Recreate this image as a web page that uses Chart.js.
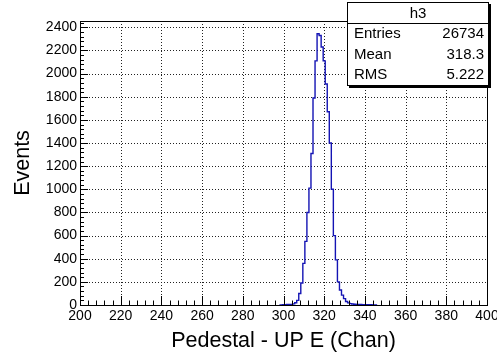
<!DOCTYPE html>
<html>
<head>
<meta charset="utf-8">
<script src="https://cdn.jsdelivr.net/npm/chart.js@4.4.0/dist/chart.umd.min.js"></script>
<style>
  html, body { margin: 0; padding: 0; background: #fff; }
  #wrap { width: 497px; height: 356px; }
</style>
</head>
<body>
<div id="wrap"><canvas id="c" width="497" height="356"></canvas></div>
<script>
// histogram h3: bin centres (Chan) and counts
const channels = [298, 299, 300, 301, 302, 303, 304, 305, 306, 307, 308, 309, 310, 311, 312, 313, 314, 315, 316, 317,
                  318, 319, 320, 321, 322, 323, 324, 325, 326, 327, 328, 329, 330, 331, 332, 333, 334, 335, 336, 337,
                  338, 339, 340, 341, 342, 343, 344, 345, 346];
const counts = [0, 0, 3, 3, 4, 4, 5, 10, 20, 40, 100, 190, 360, 550, 800, 1010, 1310, 1790, 2110, 2345,
                2330, 2230, 2110, 1910, 1670, 1400, 1000, 600, 390, 200, 130, 85, 55, 30, 18, 12, 8, 6, 5, 4,
                4, 3, 3, 2, 2, 2, 1, 0, 0];

const xTicks = [200, 220, 240, 260, 280, 300, 320, 340, 360, 380, 400];
const yTicks = [0, 200, 400, 600, 800, 1000, 1200, 1400, 1600, 1800, 2000, 2200, 2400];

const statsTitle = 'h3';
const statsLabels = ['Entries', 'Mean', 'RMS'];
const statsValues = ['26734', '318.3', '5.222'];

const FONT = "'Liberation Sans', Arial, Helvetica, sans-serif";
const X_MIN = 200, X_MAX = 400, Y_MAX = 2455;

// ROOT style: dotted grid, ticks pointing inside, frame, stats box
const rootStyle = {
    id: 'rootStyle',
    beforeDatasetsDraw(chart) {
        const { ctx, chartArea: a, scales: { x, y } } = chart;
        ctx.save();
        ctx.strokeStyle = '#222';
        ctx.lineWidth = 1;
        ctx.setLineDash([1, 2]);
        xTicks.forEach(v => {
            const px = Math.round(x.getPixelForValue(v)) + 0.5;
            ctx.beginPath(); ctx.moveTo(px, a.top); ctx.lineTo(px, a.bottom); ctx.stroke();
        });
        yTicks.forEach(v => {
            const py = Math.round(y.getPixelForValue(v)) + 0.5;
            ctx.beginPath(); ctx.moveTo(a.left, py); ctx.lineTo(a.right, py); ctx.stroke();
        });
        ctx.restore();
    },
    afterDatasetsDraw(chart) {
        const { ctx, chartArea: a, scales: { x, y } } = chart;
        ctx.save();
        ctx.strokeStyle = '#000';
        ctx.lineWidth = 1;
        ctx.strokeRect(Math.round(a.left) + 0.5, Math.round(a.top) + 0.5,
                       Math.round(a.right - a.left), Math.round(a.bottom - a.top));
        // x ticks, major every 20, minor every 4
        for (let v = X_MIN; v <= X_MAX; v += 4) {
            const px = Math.round(x.getPixelForValue(v)) + 0.5;
            const len = (v % 20 === 0) ? 9 : 4.5;
            ctx.beginPath(); ctx.moveTo(px, a.bottom); ctx.lineTo(px, a.bottom - len); ctx.stroke();
        }
        // y ticks, major every 200, minor every 40
        for (let v = 0; v <= Y_MAX; v += 40) {
            const py = Math.round(y.getPixelForValue(v)) + 0.5;
            const len = (v % 200 === 0) ? 8 : 4;
            ctx.beginPath(); ctx.moveTo(a.left, py); ctx.lineTo(a.left + len, py); ctx.stroke();
        }
        ctx.restore();
    },
    afterDraw(chart) {
        const { ctx } = chart;
        const bx = 347, by = 2, bw = 142, bh = 84, head = 21;
        ctx.save();
        ctx.fillStyle = '#000';
        ctx.fillRect(bx + 2, by + 2, bw, bh);
        ctx.fillStyle = '#fff';
        ctx.fillRect(bx, by, bw, bh);
        ctx.strokeStyle = '#000';
        ctx.lineWidth = 1;
        ctx.strokeRect(bx + 0.5, by + 0.5, bw - 1, bh - 1);
        ctx.beginPath(); ctx.moveTo(bx, by + head + 0.5); ctx.lineTo(bx + bw, by + head + 0.5); ctx.stroke();
        ctx.fillStyle = '#000';
        ctx.font = '15px ' + FONT;
        ctx.textBaseline = 'middle';
        ctx.textAlign = 'center';
        ctx.fillText(statsTitle, bx + bw / 2, by + head / 2 + 1);
        statsLabels.forEach((lab, i) => {
            const ty = by + head + 11 + i * 20.5;
            ctx.textAlign = 'left';
            ctx.fillText(lab, bx + 7, ty);
            ctx.textAlign = 'right';
            ctx.fillText(statsValues[i], bx + bw - 5, ty);
        });
        ctx.restore();
    }
};

const points = channels.map((c, i) => ({ x: c, y: counts[i] }));

new Chart(document.getElementById('c').getContext('2d'), {
    type: 'line',
    data: {
        datasets: [{
            data: points,
            stepped: 'middle',
            borderColor: '#1414b4',
            borderWidth: 1.4,
            pointRadius: 0,
            fill: false
        }]
    },
    options: {
        responsive: false,
        animation: false,
        layout: { padding: { left: 0, right: 10, top: 21, bottom: 0 } },
        plugins: { legend: { display: false }, tooltip: { enabled: false } },
        scales: {
            x: {
                type: 'linear',
                min: X_MIN,
                max: X_MAX,
                afterBuildTicks: s => { s.ticks = xTicks.map(v => ({ value: v })); },
                afterFit: s => { s.height = 51; s.paddingLeft = 0; s.paddingRight = 0; },
                grid: { display: false, drawTicks: false },
                border: { display: false },
                ticks: { color: '#000', padding: 3, maxRotation: 0, autoSkip: false,
                         callback: v => String(v),
                         font: { family: FONT, size: 14 } },
                title: { display: true, text: 'Pedestal - UP E (Chan)', color: '#000',
                         font: { family: FONT, size: 21.5 }, padding: { top: 0, bottom: 2 } }
            },
            y: {
                type: 'linear',
                min: 0,
                max: Y_MAX,
                afterBuildTicks: s => { s.ticks = yTicks.map(v => ({ value: v })); },
                afterFit: s => { s.width = 80; s.paddingTop = 0; s.paddingBottom = 0; },
                grid: { display: false, drawTicks: false },
                border: { display: false },
                ticks: { color: '#000', padding: 3, autoSkip: false,
                         callback: v => String(v),
                         font: { family: FONT, size: 14 } },
                title: { display: true, text: 'Events', color: '#000',
                         font: { family: FONT, size: 21.5 }, padding: { top: 10, bottom: 0 } }
            }
        }
    },
    plugins: [rootStyle]
});
</script>
</body>
</html>
